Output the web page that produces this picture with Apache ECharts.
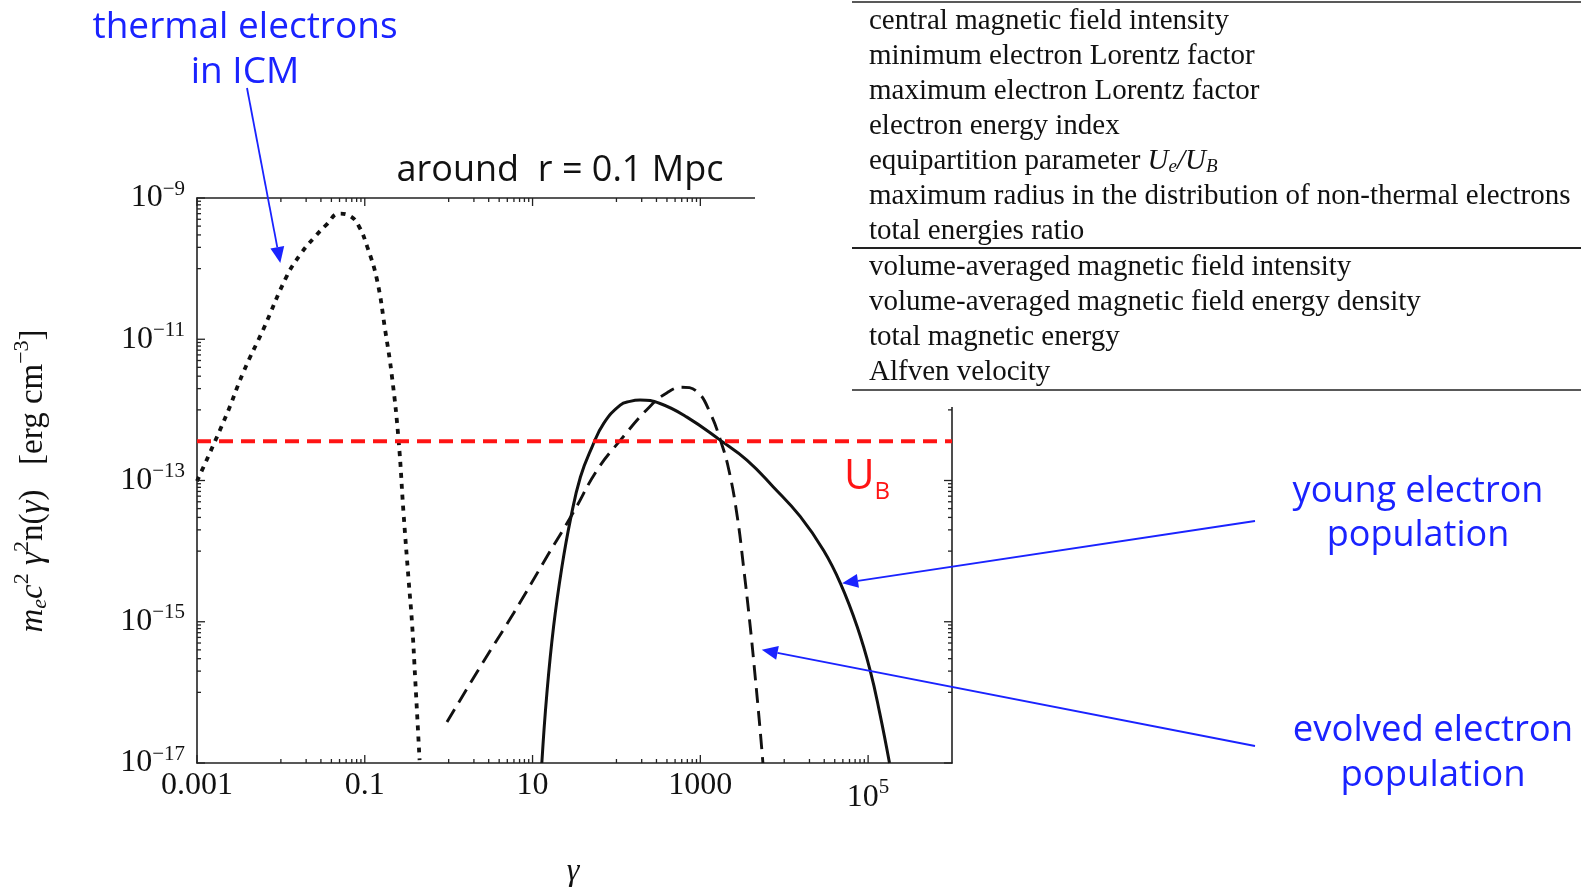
<!DOCTYPE html>
<html>
<head>
<meta charset="utf-8">
<title>electron spectra around r = 0.1 Mpc</title>
<script src="https://cdn.jsdelivr.net/npm/echarts@6/dist/echarts.min.js"></script>
<style>
    html, body { margin: 0; padding: 0; background: #fff; }
    #main { width: 1581px; height: 887px; }
</style>
</head>
<body>
<div id="main"></div>
<script>
// thermal electrons in ICM (dotted curve)
var thermalGamma = [1.0e-3, 2.19e-3, 3.59e-3, 6.2e-3, 1.18e-2, 1.70e-2, 2.45e-2, 3.55e-2, 4.9e-2, 6.76e-2,
    8.51e-2, 0.107, 0.140, 0.175, 0.211, 0.253, 0.290, 0.333, 0.366, 0.400, 0.450];
var thermalEnergy = [9.8e-14, 7.9e-13, 3.47e-12, 1.4e-11, 7.9e-11, 1.58e-10, 2.69e-10, 4.27e-10, 6.0e-10, 5.5e-10,
    3.98e-10, 2.04e-10, 6.9e-11, 1.35e-11, 2.95e-12, 3.7e-13, 3.4e-14, 3.9e-15, 9.5e-16, 1.48e-16, 1.1e-17];

// evolved electron population (dashed curve)
var evolvedGamma = [0.955, 2.38, 5.94, 14.8, 30.9, 58.9, 111, 251, 398, 603,
    912, 1318, 1738, 2188, 2754, 3273, 3936, 4467, 5129, 5572];
var evolvedEnergy = [3.8e-17, 2.3e-16, 1.32e-15, 8.3e-15, 3.6e-14, 1.41e-13, 3.7e-13, 1.12e-12, 1.74e-12, 2.09e-12,
    1.82e-12, 8.9e-13, 3.7e-13, 1.41e-13, 3.1e-14, 6.0e-15, 8.5e-16, 1.86e-16, 3.2e-17, 1.0e-17];

// young electron population (solid curve)
var youngGamma = [12.9, 14.8, 17.8, 22.4, 28.2, 37.2, 51.3, 70.8, 111, 145, 191, 331,
    692, 1738, 3589, 7413, 15488, 29512, 46774, 74131, 105925, 138038, 179887];
var youngEnergy = [1.0e-17, 9.5e-17, 8.5e-16, 6.0e-15, 2.75e-14, 1.12e-13, 3.0e-13, 6.5e-13, 1.17e-12, 1.32e-12, 1.38e-12, 1.23e-12,
    7.9e-13, 3.7e-13, 1.95e-13, 8.1e-14, 3.1e-14, 1.02e-14, 3.5e-15, 8.5e-16, 2.04e-16, 5.0e-17, 1.0e-17];

// magnetic field energy density U_B
var uB = 3.6e-13;

// axes
var xRange = [1e-3, 1e6];
var yRange = [1e-17, 1e-9];
var xLabelValues = [1e-3, 0.1, 10, 1000, 1e5];
var xTickLabels = ['0.001', '0.1', '10', '1000', '{m|10}{s|5}'];
var yLabelValues = [1e-9, 1e-11, 1e-13, 1e-15, 1e-17];
var yTickLabels = ['10{s|\u22129}', '10{s|\u221211}', '10{s|\u221213}', '10{s|\u221215}', '10{s|\u221217}'];
var minorMantissa = [1, 2, 3, 4, 5, 6, 7, 8, 9];
var xMinorDecades = [-2, 0, 2, 4];
var yMinorDecades = [-10, -12, -14, -16];

// parameter table
var tableRowsTop = [
    'central magnetic field intensity',
    'minimum electron Lorentz factor',
    'maximum electron Lorentz factor',
    'electron energy index',
    'equipartition parameter {i|U}{b|e}{i|/U}{b|B}',
    'maximum radius in the distribution of non-thermal electrons',
    'total energies ratio'
];
var tableRowsBottom = [
    'volume-averaged magnetic field intensity',
    'volume-averaged magnetic field energy density',
    'total magnetic energy',
    'Alfven velocity'
];

var SERIF = "'Liberation Serif', 'DejaVu Serif', serif";
var HAND = "'Open Sans', 'Noto Sans', sans-serif";
var BLUE = '#1a23ff';
var RED = '#ff1414';

function minorTicks(decades) {
    var out = [];
    decades.forEach(function (d) {
        minorMantissa.forEach(function (m) {
            out.push(m * Math.pow(10, d));
        });
    });
    return out;
}

function zip(xs, ys) {
    return xs.map(function (x, i) { return [x, ys[i]]; });
}

var tickStyle = {stroke: '#222', lineWidth: 1.3};

/**
 * 刻度线 (画在四条边上, 朝里)
 */
function tickSeries(dir, values, len) {
    return {
        type: 'custom',
        silent: true,
        z: 4,
        data: values.map(function (v) {
            return dir === 'x' ? [v, yRange[0]] : [xRange[0], v];
        }),
        renderItem: function (params, api) {
            var a, b;
            if (dir === 'x') {
                a = api.coord([api.value(0), yRange[0]]);
                b = api.coord([api.value(0), yRange[1]]);
                return {
                    type: 'group',
                    children: [
                        {type: 'line', shape: {x1: a[0], y1: a[1], x2: a[0], y2: a[1] - len}, style: tickStyle},
                        {type: 'line', shape: {x1: b[0], y1: b[1], x2: b[0], y2: b[1] + len}, style: tickStyle}
                    ]
                };
            }
            a = api.coord([xRange[0], api.value(1)]);
            b = api.coord([xRange[1], api.value(1)]);
            return {
                type: 'group',
                children: [
                    {type: 'line', shape: {x1: a[0], y1: a[1], x2: a[0] + len, y2: a[1]}, style: tickStyle},
                    {type: 'line', shape: {x1: b[0], y1: b[1], x2: b[0] - len, y2: b[1]}, style: tickStyle}
                ]
            };
        }
    };
}

/**
 * 刻度标签
 */
function labelSeries(dir, values, labels) {
    return {
        type: 'custom',
        silent: true,
        z: 4,
        data: values.map(function (v) {
            return dir === 'x' ? [v, yRange[0]] : [xRange[0], v];
        }),
        renderItem: function (params, api) {
            var txt = labels[params.dataIndex];
            if (dir === 'x') {
                var p = api.coord([api.value(0), yRange[0]]);
                return {
                    type: 'text', x: p[0], y: p[1] + 7,
                    style: {
                        text: txt, fontSize: 32, fontFamily: SERIF, fill: '#111',
                        align: 'center', verticalAlign: 'top',
                        rich: {
                            m: {fontSize: 32, fontFamily: SERIF, fill: '#111', padding: [12, 0, 0, 0]},
                            s: {fontSize: 21, fontFamily: SERIF, fill: '#111', padding: [0, 0, 10, 0]}
                        }
                    }
                };
            }
            var q = api.coord([xRange[0], api.value(1)]);
            return {
                type: 'text', x: q[0] - 12, y: q[1],
                style: {
                    text: txt, fontSize: 32, fontFamily: SERIF, fill: '#111',
                    align: 'right', verticalAlign: 'middle',
                    rich: {
                        s: {fontSize: 21, fontFamily: SERIF, fill: '#111', padding: [0, 0, 18, 0]}
                    }
                }
            };
        }
    };
}

function logAxis(pos, range) {
    return {
        type: 'log',
        logBase: 10,
        min: range[0],
        max: range[1],
        position: pos,
        axisLine: {show: true, onZero: false, lineStyle: {color: '#222', width: 1.6}},
        axisTick: {show: false},
        axisLabel: {show: false},
        splitLine: {show: false},
        minorTick: {show: false},
        minorSplitLine: {show: false}
    };
}

function curve(data, width, dash) {
    return {
        type: 'line',
        data: data,
        showSymbol: false,
        smooth: 0.45,
        silent: true,
        z: 3,
        lineStyle: {color: '#111', width: width, type: dash, cap: 'butt'}
    };
}

var chart = echarts.init(document.getElementById('main'));

var option = {
    animation: false,
    backgroundColor: '#fff',
    grid: {left: 197, right: 629, top: 198, bottom: 124, containLabel: false},
    xAxis: [logAxis('bottom', xRange), logAxis('top', xRange)],
    yAxis: [logAxis('left', yRange), logAxis('right', yRange)],
    series: [
        curve(zip(thermalGamma, thermalEnergy), 3.8, [5, 6]),
        curve(zip(evolvedGamma, evolvedEnergy), 2.9, [15, 8]),
        curve(zip(youngGamma, youngEnergy), 3, 'solid'),
        {
            type: 'line',
            data: [[xRange[0], uB], [xRange[1], uB]],
            showSymbol: false,
            silent: true,
            z: 3,
            lineStyle: {color: RED, width: 4, type: [14, 8]}
        },
        tickSeries('x', xLabelValues, 8),
        tickSeries('x', minorTicks(xMinorDecades), 4),
        tickSeries('y', yLabelValues, 8),
        tickSeries('y', minorTicks(yMinorDecades), 4),
        labelSeries('x', xLabelValues, xTickLabels),
        labelSeries('y', yLabelValues, yTickLabels)
    ]
};
chart.setOption(option);

// 箭头
function arrow(from, to, color) {
    var dx = to[0] - from[0], dy = to[1] - from[1];
    var L = Math.sqrt(dx * dx + dy * dy);
    var ux = dx / L, uy = dy / L, head = 16, half = 7;
    var bx = to[0] - ux * head, by = to[1] - uy * head;
    return [
        {type: 'line', z: 110, shape: {x1: from[0], y1: from[1], x2: bx, y2: by},
            style: {stroke: color, lineWidth: 1.8}},
        {type: 'polygon', z: 110,
            shape: {points: [to, [bx - uy * half, by + ux * half], [bx + uy * half, by - ux * half]]},
            style: {fill: color}}
    ];
}

function px(x, y) {
    return chart.convertToPixel({xAxisIndex: 0, yAxisIndex: 0}, [x, y]);
}

var graphics = [];

// 表格 (盖住右上角)
graphics.push({type: 'rect', z: 100, shape: {x: 755, y: 0, width: 826, height: 407}, style: {fill: '#fff'}});
graphics.push({type: 'line', z: 101, shape: {x1: 852, y1: 2, x2: 1581, y2: 2}, style: {stroke: '#222', lineWidth: 1.5}});
graphics.push({type: 'line', z: 101, shape: {x1: 852, y1: 248, x2: 1581, y2: 248}, style: {stroke: '#222', lineWidth: 2.2}});
graphics.push({type: 'line', z: 101, shape: {x1: 852, y1: 390, x2: 1581, y2: 390}, style: {stroke: '#222', lineWidth: 1.5}});

var tableRich = {
    i: {fontSize: 29, fontFamily: SERIF, fontStyle: 'italic', fill: '#111'},
    b: {fontSize: 19, fontFamily: SERIF, fontStyle: 'italic', fill: '#111', padding: [12, 0, 0, 0]}
};
tableRowsTop.forEach(function (row, i) {
    graphics.push({
        type: 'text', z: 101, x: 869, y: 21 + i * 35,
        style: {text: row, fontSize: 29, fontFamily: SERIF, fill: '#111', align: 'left', verticalAlign: 'middle', rich: tableRich}
    });
});
tableRowsBottom.forEach(function (row, i) {
    graphics.push({
        type: 'text', z: 101, x: 869, y: 267 + i * 35,
        style: {text: row, fontSize: 29, fontFamily: SERIF, fill: '#111', align: 'left', verticalAlign: 'middle', rich: tableRich}
    });
});

// 坐标轴名称
graphics.push({
    type: 'text', z: 50, x: 33, y: 481, rotation: Math.PI / 2,
    style: {
        text: '{i|m}{b|e}{i|c}{p|2} {i|\u03b3}{p|2}n({i|\u03b3})   [erg cm{p|\u22123}]',
        fontSize: 33, fontFamily: SERIF, fill: '#111', align: 'center', verticalAlign: 'middle',
        rich: {
            i: {fontSize: 33, fontFamily: SERIF, fontStyle: 'italic', fill: '#111'},
            b: {fontSize: 22, fontFamily: SERIF, fontStyle: 'italic', fill: '#111', padding: [14, 0, 0, 0]},
            p: {fontSize: 22, fontFamily: SERIF, fill: '#111', padding: [0, 0, 22, 0]}
        }
    }
});
graphics.push({
    type: 'text', z: 50, x: 573, y: 872,
    style: {text: '\u03b3', fontSize: 32, fontFamily: SERIF, fontStyle: 'italic', fill: '#111', align: 'center', verticalAlign: 'middle'}
});

// 标注
graphics.push({
    type: 'text', z: 110, x: 560, y: 171,
    style: {text: 'around  r = 0.1 Mpc', fontSize: 36, fontFamily: HAND, fill: '#111', align: 'center', verticalAlign: 'middle'}
});
graphics.push({
    type: 'text', z: 110, x: 245, y: 50,
    style: {text: 'thermal electrons\nin ICM', fontSize: 37, lineHeight: 45, fontFamily: HAND, fill: BLUE, align: 'center', verticalAlign: 'middle'}
});
graphics.push({
    type: 'text', z: 110, x: 1418, y: 514,
    style: {text: 'young electron\npopulation', fontSize: 36, lineHeight: 44, fontFamily: HAND, fill: BLUE, align: 'center', verticalAlign: 'middle'}
});
graphics.push({
    type: 'text', z: 110, x: 1433, y: 753,
    style: {text: 'evolved electron\npopulation', fontSize: 36.5, lineHeight: 45, fontFamily: HAND, fill: BLUE, align: 'center', verticalAlign: 'middle'}
});
graphics.push({
    type: 'text', z: 110, x: 844, y: 477,
    style: {
        text: '{u|U}{b|B}', align: 'left', verticalAlign: 'middle',
        rich: {
            u: {fontSize: 42, fontFamily: HAND, fill: RED},
            b: {fontSize: 24, fontFamily: HAND, fill: RED, padding: [30, 0, 0, 0]}
        }
    }
});

graphics = graphics.concat(arrow([247, 88], px(9.84e-3, 1.2e-10), BLUE));
graphics = graphics.concat(arrow([1255, 521], px(4.9e4, 3.5e-15), BLUE));
graphics = graphics.concat(arrow([1255, 746], px(5.4e3, 4.0e-16), BLUE));

chart.setOption({graphic: {elements: graphics}});

window.addEventListener('resize', function () {
    chart.resize();
});
</script>
</body>
</html>
